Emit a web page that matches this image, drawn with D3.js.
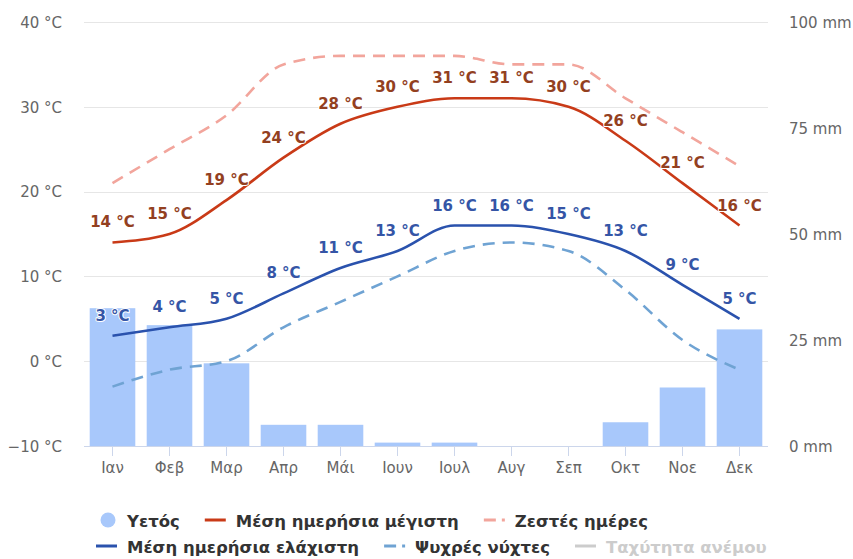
<!DOCTYPE html>
<html>
<head>
<meta charset="utf-8">
<script src="https://cdn.jsdelivr.net/npm/d3@7/dist/d3.min.js"></script>
<style>
  html, body { margin: 0; padding: 0; background: #ffffff; }
  svg { display: block; font-family: "DejaVu Sans", Verdana, sans-serif; }
</style>
</head>
<body>
<svg id="chart" width="853" height="559"></svg>
<script>
// ---- data ----
const months = ["Ιαν", "Φεβ", "Μαρ", "Απρ", "Μάι", "Ιουν", "Ιουλ", "Αυγ", "Σεπ", "Οκτ", "Νοε", "Δεκ"];
const precipitation = [32.5, 28.5, 19.5, 5, 5, 0.8, 0.8, 0, 0, 5.6, 13.8, 27.5];
const meanMax = [14, 15, 19, 24, 28, 30, 31, 31, 30, 26, 21, 16];
const meanMin = [3, 4, 5, 8, 11, 13, 16, 16, 15, 13, 9, 5];
const hotDays = [21, 25, 29, 35, 36, 36, 36, 35, 35, 31, 27, 23];
const coldNights = [-3, -1, 0, 4, 7, 10, 13, 14, 13, 8.4, 2.5, -1];
const tempTicks = [-10, 0, 10, 20, 30, 40];
const rainTicks = [0, 25, 50, 75, 100];
const legendRow1 = ["Υετός", "Μέση ημερήσια μέγιστη", "Ζεστές ημέρες"];
const legendRow2 = ["Μέση ημερήσια ελάχιστη", "Ψυχρές νύχτες", "Ταχύτητα ανέμου"];

// ---- layout ----
const plotL = 84, plotR = 768, plotT = 22, plotB = 446;
const svg = d3.select("#chart");

const x = d3.scaleBand().domain(months).range([plotL, plotR]).padding(0);
const cx = m => x(m) + x.bandwidth() / 2;
const yT = d3.scaleLinear().domain([-10, 40]).range([plotB, plotT]);
const yR = d3.scaleLinear().domain([0, 100]).range([plotB, plotT]);

// gridlines
svg.append("g").selectAll("line").data(tempTicks.filter(t => t !== -10)).join("line")
  .attr("x1", plotL).attr("x2", plotR)
  .attr("y1", d => Math.round(yT(d)) + 0.5).attr("y2", d => Math.round(yT(d)) + 0.5)
  .attr("stroke", "#e6e6e6").attr("stroke-width", 1);

// left axis
const axL = svg.append("g").attr("transform", `translate(${plotL - 22},0)`)
  .call(d3.axisLeft(yT).tickValues(tempTicks).tickSize(0).tickPadding(0));
axL.select(".domain").remove();
axL.selectAll("text").attr("fill", "#666").attr("font-size", 15)
  .attr("font-family", "DejaVu Sans, sans-serif").attr("dy", "0.35em")
  .text(d => (d < 0 ? "\u2212" + Math.abs(d) : d) + " °C");

// right axis
const axR = svg.append("g").attr("transform", `translate(${plotR + 21},0)`)
  .call(d3.axisRight(yR).tickValues(rainTicks).tickSize(0).tickPadding(0).tickFormat(d => d + " mm"));
axR.select(".domain").remove();
axR.selectAll("text").attr("fill", "#666").attr("font-size", 15)
  .attr("font-family", "DejaVu Sans, sans-serif").attr("dy", "0.35em");

// bars
const barW = x.bandwidth() * 0.8;
svg.append("g").selectAll("rect").data(months).join("rect")
  .attr("x", (m) => cx(m) - barW / 2)
  .attr("width", barW)
  .attr("y", (m, i) => yR(precipitation[i]))
  .attr("height", (m, i) => plotB - yR(precipitation[i]))
  .attr("fill", "#a8c8fb");

// x axis
const axB = svg.append("g").attr("transform", `translate(0,${plotB})`)
  .call(d3.axisBottom(x).tickSize(10).tickPadding(6));
axB.select(".domain").attr("stroke", "#ccd6eb").attr("d", `M${plotL},0.5H${plotR}`);
axB.selectAll(".tick line").attr("stroke", "#ccd6eb");
axB.selectAll("text").attr("fill", "#666").attr("font-size", 15)
  .attr("font-family", "DejaVu Sans, sans-serif");

// lines
const lineGen = (arr, yS) => d3.line()
  .x((d, i) => cx(months[i]))
  .y(d => yS(d))
  .curve(d3.curveMonotoneX)(arr);

svg.append("path").attr("d", lineGen(hotDays, yT)).attr("fill", "none")
  .attr("stroke", "#f2a59c").attr("stroke-width", 2.6).attr("stroke-dasharray", "12,8");
svg.append("path").attr("d", lineGen(coldNights, yT)).attr("fill", "none")
  .attr("stroke", "#6fa3d3").attr("stroke-width", 2.6).attr("stroke-dasharray", "12,8");
svg.append("path").attr("d", lineGen(meanMax, yT)).attr("fill", "none")
  .attr("stroke", "#c93a17").attr("stroke-width", 2.6);
svg.append("path").attr("d", lineGen(meanMin, yT)).attr("fill", "none")
  .attr("stroke", "#2a52ad").attr("stroke-width", 2.6);

// data labels
function labels(arr, color) {
  svg.append("g").selectAll("text").data(arr).join("text")
    .attr("x", (d, i) => cx(months[i]))
    .attr("y", d => yT(d) - 15)
    .attr("text-anchor", "middle")
    .attr("font-size", 15).attr("font-weight", "bold")
    .attr("fill", color)
    .attr("stroke", "#ffffff").attr("stroke-width", 2).attr("stroke-linejoin", "round")
    .attr("paint-order", "stroke")
    .text(d => d + " °C");
}
labels(meanMax, "#93401f");
labels(meanMin, "#3555a6");

// legend (flow layout)
const legend = svg.append("g").attr("font-size", 16.5).attr("font-weight", "bold");
const rows = [
  { y: 521, items: [
    { label: legendRow1[0], type: "circle", color: "#a8c8fb", text: "#333" },
    { label: legendRow1[1], type: "line", color: "#c93a17", text: "#333" },
    { label: legendRow1[2], type: "dash", color: "#f2a59c", text: "#333" }
  ]},
  { y: 547, items: [
    { label: legendRow2[0], type: "line", color: "#2a52ad", text: "#333" },
    { label: legendRow2[1], type: "dash", color: "#6fa3d3", text: "#333" },
    { label: legendRow2[2], type: "line", color: "#cccccc", text: "#cccccc" }
  ]}
];
rows.forEach(r => {
  let xPos = 96;
  r.items.forEach(it => {
    const g = legend.append("g").attr("transform", `translate(${xPos},${r.y})`);
    if (it.type === "circle") {
      g.append("circle").attr("cx", 12).attr("cy", -1).attr("r", 7.5).attr("fill", it.color);
    } else if (it.type === "line") {
      g.append("line").attr("x1", 0).attr("x2", 21).attr("y1", -1).attr("y2", -1)
        .attr("stroke", it.color).attr("stroke-width", 3);
    } else {
      g.append("line").attr("x1", 0).attr("x2", 21).attr("y1", -1).attr("y2", -1)
        .attr("stroke", it.color).attr("stroke-width", 3).attr("stroke-dasharray", "12,6,3,100");
    }
    const t = g.append("text").attr("x", 31).attr("y", 0).attr("dy", "0.35em")
      .attr("fill", it.text).text(it.label);
    xPos += 31 + t.node().getComputedTextLength() + 25;
  });
});
</script>
</body>
</html>
